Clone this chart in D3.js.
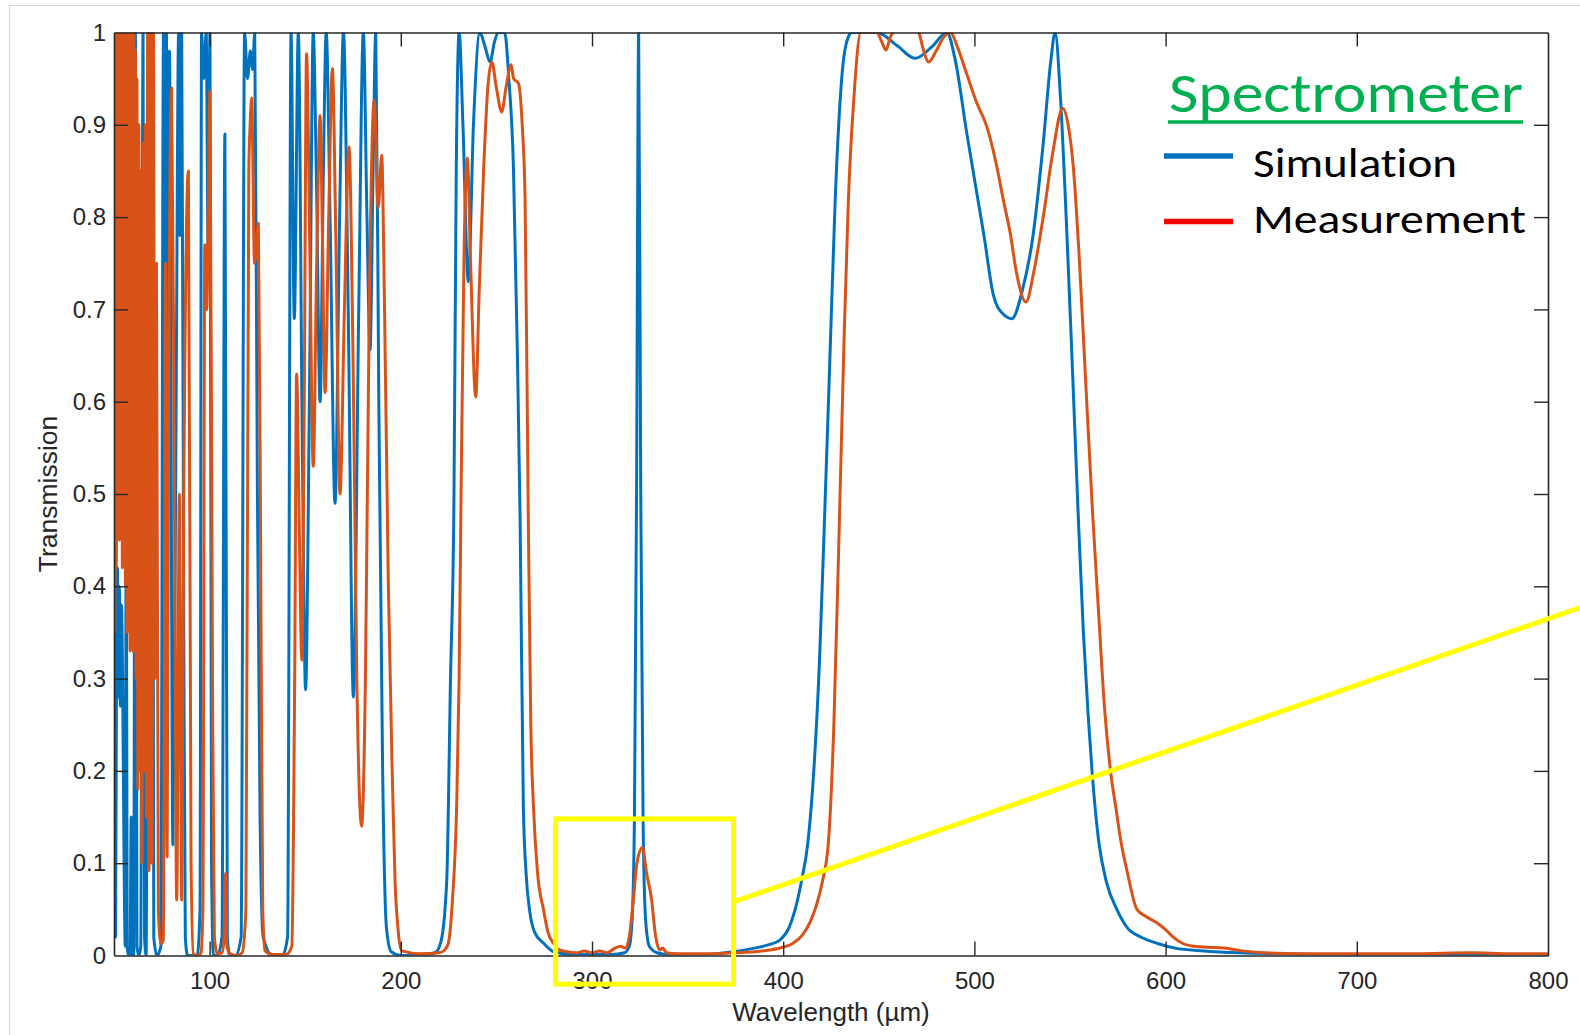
<!DOCTYPE html>
<html>
<head>
<meta charset="utf-8">
<script src="https://cdn.jsdelivr.net/npm/d3@7"></script>
<style>
  html, body { margin: 0; padding: 0; background: #ffffff; }
  svg { display: block; }
  text { font-variant-ligatures: none; font-feature-settings: "liga" 0; }
</style>
</head>
<body>
<svg id="chart" width="1580" height="1035"></svg>
<script>
// ---- Spectrometer transmission: simulated vs measured ----

// Simulation, wavelength (µm)
const simWavelength = [
  50.0, 50.4, 50.8, 51.3, 51.8, 52.3, 52.8, 53.3, 53.9, 54.5, 55.2, 55.9, 56.4, 56.9, 57.6, 58.4,
  59.0, 59.5, 60.3, 61.2, 62.0, 63.0, 64.0, 65.2, 66.0, 66.8, 68.0, 69.0, 70.0, 70.8, 72.5, 74.5,
  75.9, 76.7, 77.4, 78.2, 79.0, 80.8, 82.5, 83.8, 84.5, 85.4, 86.5, 87.3, 88.5, 91.0, 93.5, 95.0,
  95.8, 97.0, 98.2, 99.3, 100.2, 101.0, 102.0, 104.0, 106.5, 108.0, 109.3, 110.5, 113.5, 116.5,
  118.3, 119.8, 121.3, 122.5, 123.6, 125.0, 126.4, 128.0, 133.0, 138.0, 140.8, 142.6, 144.3, 146.4,
  148.5, 150.2, 152.2, 154.2, 155.8, 157.8, 159.5, 161.0, 163.0, 165.6, 168.0, 170.0, 172.5, 175.2,
  178.0, 180.4, 182.3, 183.9, 185.5, 186.9, 188.5, 190.5, 192.5, 195.0, 200.0, 210.0, 218.0, 221.0,
  224.0, 226.0, 227.8, 229.0, 230.5, 232.5, 235.3, 238.0, 241.4, 244.0, 246.7, 249.0, 251.0, 254.3,
  256.5, 258.9, 261.0, 262.4, 264.1, 265.5, 267.3, 270.0, 274.6, 280.0, 290.0, 310.0, 317.0, 319.5,
  321.0, 322.2, 323.3, 324.4, 325.5, 326.7, 328.0, 330.0, 334.0, 340.0, 355.0, 365.0, 374.0, 385.0,
  393.0, 398.4, 403.0, 406.0, 409.5, 413.0, 416.0, 419.0, 421.4, 424.0, 427.2, 431.0, 434.0, 436.0,
  449.0, 460.0, 469.0, 478.0, 485.6, 490.0, 496.0, 505.0, 510.0, 515.0, 519.6, 525.0, 530.8, 536.0,
  540.0, 542.2, 545.0, 548.0, 551.0, 554.4, 557.0, 559.5, 561.6, 565.0, 569.0, 574.5, 580.0, 587.0,
  595.8, 605.0, 620.0, 638.5, 660.0, 700.0, 750.0, 800.0
];
// Simulation, transmission
const simTransmission = [
  0.69, 0.25, 0.02, 0.30, 0.42, 0.28, 0.40, 0.27, 0.38, 0.30, 0.12, 0.01, 0.50, 0.01, 0.00, 0.00,
  0.15, 0.00, 0.00, 1.00, 0.01, 0.00, 0.01, 1.00, 0.02, 0.00, 1.00, 0.70, 1.00, 0.02, 0.00, 0.01,
  1.00, 0.45, 1.00, 0.50, 0.98, 0.12, 0.60, 1.00, 0.78, 1.00, 0.35, 0.02, 0.00, 0.00, 0.00, 0.05,
  1.00, 0.95, 1.00, 0.75, 1.00, 0.10, 0.00, 0.00, 0.02, 0.89, 0.02, 0.00, 0.00, 0.02,
  1.00, 0.95, 0.98, 0.96, 1.00, 0.50, 0.15, 0.02, 0.00, 0.00, 0.02, 1.00, 0.69, 1.00,
  0.55, 0.288, 0.60, 1.00, 0.85, 0.60, 0.85, 1.00, 0.80, 0.49, 0.80, 1.00, 0.70, 0.28,
  0.70, 1.00, 0.80, 0.656, 0.85, 1.00, 0.60, 0.20, 0.03, 0.004, 0.00, 0.00, 0.003, 0.015,
  0.08, 0.30, 0.494, 0.85, 1.00, 0.90, 0.73, 0.90, 1.00, 0.985, 0.968, 0.99, 1.00, 1.00,
  0.95, 0.855, 0.65, 0.472, 0.161, 0.09, 0.05, 0.025, 0.0135, 0.004, 0.001, 0.001, 0.003, 0.01,
  0.04, 0.15, 0.50, 1.00, 0.50, 0.15, 0.04, 0.01, 0.003, 0.001, 0.001, 0.002, 0.004, 0.008,
  0.012, 0.017, 0.03, 0.048, 0.08, 0.124, 0.2, 0.32, 0.46, 0.62, 0.819, 0.96, 0.995, 1.00,
  1.00, 0.985, 0.972, 0.985, 1.00, 0.97, 0.891, 0.78, 0.715, 0.695, 0.69, 0.72, 0.782, 0.88,
  0.97, 1.00, 0.93, 0.80, 0.65, 0.472, 0.35, 0.26, 0.198, 0.124, 0.08, 0.05, 0.03, 0.02,
  0.013, 0.008, 0.005, 0.003, 0.002, 0.001, 0.001, 0.001
];

// Measurement, wavelength (µm)
const measWavelength = [
  50.0, 50.4, 50.8, 51.2, 51.6, 52.0, 52.4, 52.8, 53.2, 53.6, 54.0, 54.4, 54.8, 55.2, 55.6, 56.0,
  56.4, 56.8, 57.2, 57.6, 58.0, 58.4, 58.8, 59.2, 59.6, 60.0, 60.4, 60.8, 61.2, 61.6, 62.0, 62.5,
  63.0, 63.5, 64.0, 64.6, 65.2, 65.8, 66.4, 67.0, 67.6, 68.3, 69.0, 69.8, 70.6, 71.4, 72.2, 73.2,
  74.5, 75.8, 77.0, 77.8, 78.6, 80.1, 81.5, 82.8, 84.2, 85.4, 86.5, 88.9, 90.3, 91.5, 94.0, 95.5,
  96.5, 97.5, 98.5, 100.2, 101.5, 102.5, 104.0, 106.5, 107.6, 108.4, 109.0, 110.7, 114.0, 117.0,
  119.0, 120.5, 121.2, 122.0, 123.5, 125.5, 126.8, 127.8, 129.0, 133.0, 140.0, 143.0, 144.5, 145.5,
  147.0, 148.2, 149.5, 150.7, 152.5, 154.2, 156.0, 157.8, 159.0, 160.4, 162.3, 164.2, 166.0, 168.2,
  170.5, 172.9, 175.0, 177.0, 179.5, 181.5, 183.5, 186.1, 188.2, 190.0, 191.5, 193.5, 195.5, 197.0,
  198.5, 200.5, 210.0, 220.0, 223.0, 224.9, 227.0, 229.2, 230.5, 231.5, 233.0, 234.8, 236.5, 239.2,
  241.0, 243.4, 245.5, 247.6, 250.0, 252.8, 255.0, 257.7, 259.0, 261.5, 263.5, 265.0, 266.7, 268.0,
  269.4, 271.5, 274.6, 277.0, 279.9, 283.0, 287.0, 292.0, 296.0, 300.0, 304.0, 308.0, 312.0, 315.0,
  317.5, 319.5, 321.6, 323.5, 326.4, 328.5, 331.2, 333.0, 335.6, 337.0, 339.0, 345.0, 355.0, 365.0,
  375.0, 385.0, 393.0, 400.0, 405.0, 410.0, 414.0, 417.0, 420.5, 423.7, 426.5, 429.4, 432.0, 434.1,
  437.0, 440.6, 449.0, 451.5, 453.8, 456.0, 457.5, 462.0, 468.0, 471.0, 473.5, 476.0, 480.0, 484.0,
  487.5, 491.0, 496.0, 501.0, 506.5, 511.7, 515.0, 518.7, 522.0, 527.0, 531.0, 536.0, 541.0, 546.2,
  549.0, 551.7, 555.0, 558.0, 561.8, 565.0, 568.0, 571.3, 574.0, 576.6, 580.0, 585.0, 590.0, 595.8,
  600.0, 604.0, 609.0, 615.0, 622.0, 630.6, 640.0, 651.9, 670.0, 700.0, 730.0, 760.0, 780.0, 800.0
];
// Measurement, transmission
const measTransmission = [
  1.00, 0.35, 1.00, 0.42, 1.00, 0.50, 1.00, 0.45, 1.00, 0.55, 1.00, 0.42, 1.00, 0.50, 1.00, 0.40,
  1.00, 0.35, 1.00, 0.40, 1.00, 0.33, 1.00, 0.45, 1.00, 0.33, 1.00, 0.35, 0.98, 0.30, 0.95, 0.18,
  0.90, 0.20, 0.85, 0.10, 0.88, 0.20, 0.90, 0.15, 1.00, 0.092, 1.00, 0.10, 1.00, 0.30, 0.75, 0.05,
  0.013, 0.016, 0.75, 0.107, 0.60, 0.94, 0.55, 0.06, 0.50, 0.06, 0.50, 0.85, 0.10, 0.002, 0.00, 0.003,
  0.05, 0.77, 0.70, 0.936, 0.30, 0.02, 0.002, 0.003, 0.02, 0.089, 0.01, 0.002, 0.00, 0.003,
  0.05, 0.85, 0.90, 0.929, 0.75, 0.793, 0.40, 0.05, 0.005, 0.001, 0.001, 0.01, 0.30, 0.63,
  0.45, 0.32, 0.60, 0.977, 0.75, 0.53, 0.75, 0.91, 0.78, 0.61, 0.80, 0.961, 0.78, 0.50,
  0.70, 0.876, 0.65, 0.30, 0.14, 0.30, 0.70, 0.927, 0.81, 0.867, 0.70, 0.40, 0.20, 0.08,
  0.03, 0.005, 0.002, 0.003, 0.006, 0.0135, 0.06, 0.161, 0.30, 0.494, 0.75, 0.864, 0.75, 0.605,
  0.72, 0.855, 0.94, 0.968, 0.94, 0.914, 0.94, 0.965, 0.95, 0.945, 0.90, 0.819, 0.472, 0.25,
  0.161, 0.09, 0.05, 0.025, 0.013, 0.006, 0.004, 0.003, 0.005, 0.003, 0.005, 0.003, 0.008, 0.01,
  0.008, 0.02, 0.06, 0.10, 0.117, 0.09, 0.06, 0.025, 0.006, 0.008, 0.003, 0.002, 0.002, 0.002,
  0.003, 0.004, 0.006, 0.009, 0.013, 0.022, 0.036, 0.052, 0.08, 0.124, 0.25, 0.472, 0.68, 0.819,
  0.93, 1.00, 1.00, 0.99, 0.981, 0.995, 1.00, 1.01, 1.01, 1.00, 0.98, 0.968, 0.98, 0.995,
  1.00, 0.985, 0.955, 0.925, 0.898, 0.855, 0.82, 0.783, 0.74, 0.708, 0.74, 0.80, 0.87, 0.918,
  0.90, 0.855, 0.75, 0.63, 0.48, 0.37, 0.27, 0.198, 0.16, 0.124, 0.09, 0.05, 0.042, 0.035,
  0.028, 0.02, 0.013, 0.01, 0.009, 0.008, 0.005, 0.003, 0.002, 0.002, 0.002, 0.003, 0.002, 0.002
];

// Axis ticks
const xTickValues = [100, 200, 300, 400, 500, 600, 700, 800];
const yTickValues = [0, 0.1, 0.2, 0.3, 0.4, 0.5, 0.6, 0.7, 0.8, 0.9, 1];
const yTickLabels = ["0", "0.1", "0.2", "0.3", "0.4", "0.5", "0.6", "0.7", "0.8", "0.9", "1"];

// Legend entries
const legendTitle = "Spectrometer";
const seriesNames = ["Simulation", "Measurement"];

// Highlighted window around the weak peak and its callout line (data units)
const zoomWindow = { w0: 281, w1: 374, t0: -0.031, t1: 0.148 };
const calloutEnd = { w: 817, t: 0.377 };
const calloutStartT = 0.058;

// ---- Layout ----
const svg = d3.select("#chart");
const plot = { left: 114, right: 1548, top: 32.5, bottom: 955.5 };
const ink = "#262626";
const blue = "#0072BD";
const orange = "#D95319";

const x = d3.scaleLinear().domain([50, 800]).range([plot.left, plot.right]);
const y = d3.scaleLinear().domain([0, 1]).range([plot.bottom, plot.top]);

// Slide frame around the figure
svg.append("line").attr("x1", 9.5).attr("x2", 1580).attr("y1", 5.5).attr("y2", 5.5)
  .attr("stroke", "#d4d4d4").attr("stroke-width", 1.2);
svg.append("line").attr("x1", 9.5).attr("x2", 9.5).attr("y1", 5.5).attr("y2", 1035)
  .attr("stroke", "#d4d4d4").attr("stroke-width", 1.2);

svg.append("defs").append("clipPath").attr("id", "plot-clip")
  .append("rect")
  .attr("x", plot.left).attr("y", plot.top)
  .attr("width", plot.right - plot.left).attr("height", plot.bottom - plot.top);

// Curves
const line = d3.line()
  .x(d => x(d[0]))
  .y(d => y(d[1]))
  .curve(d3.curveMonotoneX);

const simSeries = d3.zip(simWavelength, simTransmission);
const measSeries = d3.zip(measWavelength, measTransmission);

const curves = svg.append("g").attr("clip-path", "url(#plot-clip)");
curves.append("path").datum(simSeries)
  .attr("d", line).attr("fill", "none")
  .attr("stroke", blue).attr("stroke-width", 3)
  .attr("stroke-linejoin", "round");
curves.append("path").datum(measSeries)
  .attr("d", line).attr("fill", "none")
  .attr("stroke", orange).attr("stroke-width", 3)
  .attr("stroke-linejoin", "round");

// Axes (box with inward ticks on all four sides)
const tickLen = 14;
const fontAxis = "'Liberation Sans', Arial, Helvetica, sans-serif";

const gx = svg.append("g").attr("transform", `translate(0,${plot.bottom})`)
  .call(d3.axisBottom(x).tickValues(xTickValues).tickSize(-tickLen).tickSizeOuter(0).tickPadding(16)
    .tickFormat(d3.format("d")));
const gxTop = svg.append("g").attr("transform", `translate(0,${plot.top})`)
  .call(d3.axisTop(x).tickValues(xTickValues).tickSize(-tickLen).tickSizeOuter(0).tickFormat(""));
const gy = svg.append("g").attr("transform", `translate(${plot.left},0)`)
  .call(d3.axisLeft(y).tickValues(yTickValues).tickSize(-tickLen).tickSizeOuter(0).tickPadding(8)
    .tickFormat((d, i) => yTickLabels[i]));
const gyRight = svg.append("g").attr("transform", `translate(${plot.right},0)`)
  .call(d3.axisRight(y).tickValues(yTickValues).tickSize(-tickLen).tickSizeOuter(0).tickFormat(""));

[gx, gxTop, gy, gyRight].forEach(g => {
  g.select(".domain").attr("stroke", ink).attr("stroke-width", 1.6);
  g.selectAll(".tick line").attr("stroke", ink).attr("stroke-width", 1.4);
  g.selectAll(".tick text").attr("fill", ink)
    .style("font-family", fontAxis).style("font-size", "24px");
});
// Ticks at the box edges stay hidden under the frame
gx.selectAll(".tick").filter(d => d === 800).select("line").remove();
gxTop.selectAll(".tick").filter(d => d === 800).select("line").remove();
gy.selectAll(".tick").filter(d => d === 0 || d === 1).select("line").remove();
gyRight.selectAll(".tick").filter(d => d === 0 || d === 1).select("line").remove();

// Axis titles
svg.append("text")
  .attr("x", (plot.left + plot.right) / 2).attr("y", 1021)
  .attr("text-anchor", "middle").attr("fill", ink)
  .style("font-family", fontAxis).style("font-size", "26px")
  .text("Wavelength (µm)");
svg.append("text")
  .attr("transform", `translate(57,${(plot.top + plot.bottom) / 2}) rotate(-90)`)
  .attr("text-anchor", "middle").attr("fill", ink)
  .style("font-family", fontAxis).style("font-size", "26.5px")
  .text("Transmission");

// Highlight box and callout
const yellow = "#ffff00";
svg.append("rect")
  .attr("x", x(zoomWindow.w0)).attr("y", y(zoomWindow.t1))
  .attr("width", x(zoomWindow.w1) - x(zoomWindow.w0))
  .attr("height", y(zoomWindow.t0) - y(zoomWindow.t1))
  .attr("fill", "none").attr("stroke", yellow).attr("stroke-width", 5);
svg.append("line")
  .attr("x1", x(zoomWindow.w1)).attr("y1", y(calloutStartT))
  .attr("x2", x(calloutEnd.w)).attr("y2", y(calloutEnd.t))
  .attr("stroke", yellow).attr("stroke-width", 5);

// Legend
const fontLegend = "Calibri, Carlito, Lato, 'Open Sans', sans-serif";
const legendColors = [blue, "#ff0000"];
svg.append("text")
  .attr("x", 1169).attr("y", 112)
  .attr("fill", "#00b050")
  .attr("textLength", 354).attr("lengthAdjust", "spacingAndGlyphs")
  .style("font-family", fontLegend).style("font-size", "56px")
  .text(legendTitle);
svg.append("line")
  .attr("x1", 1168).attr("x2", 1523).attr("y1", 122).attr("y2", 122)
  .attr("stroke", "#00b050").attr("stroke-width", 3.5);

const legendRows = [
  { name: seriesNames[0], y: 156, base: 176.5, width: 204 },
  { name: seriesNames[1], y: 221.5, base: 233, width: 273 }
];
legendRows.forEach((r, i) => {
  svg.append("line")
    .attr("x1", 1164).attr("x2", 1233).attr("y1", r.y).attr("y2", r.y)
    .attr("stroke", legendColors[i]).attr("stroke-width", 5.5);
  svg.append("text")
    .attr("x", 1253).attr("y", r.base)
    .attr("fill", "#000000")
    .attr("textLength", r.width).attr("lengthAdjust", "spacingAndGlyphs")
    .style("font-family", fontLegend).style("font-size", "41px")
    .text(r.name);
});
</script>
</body>
</html>
